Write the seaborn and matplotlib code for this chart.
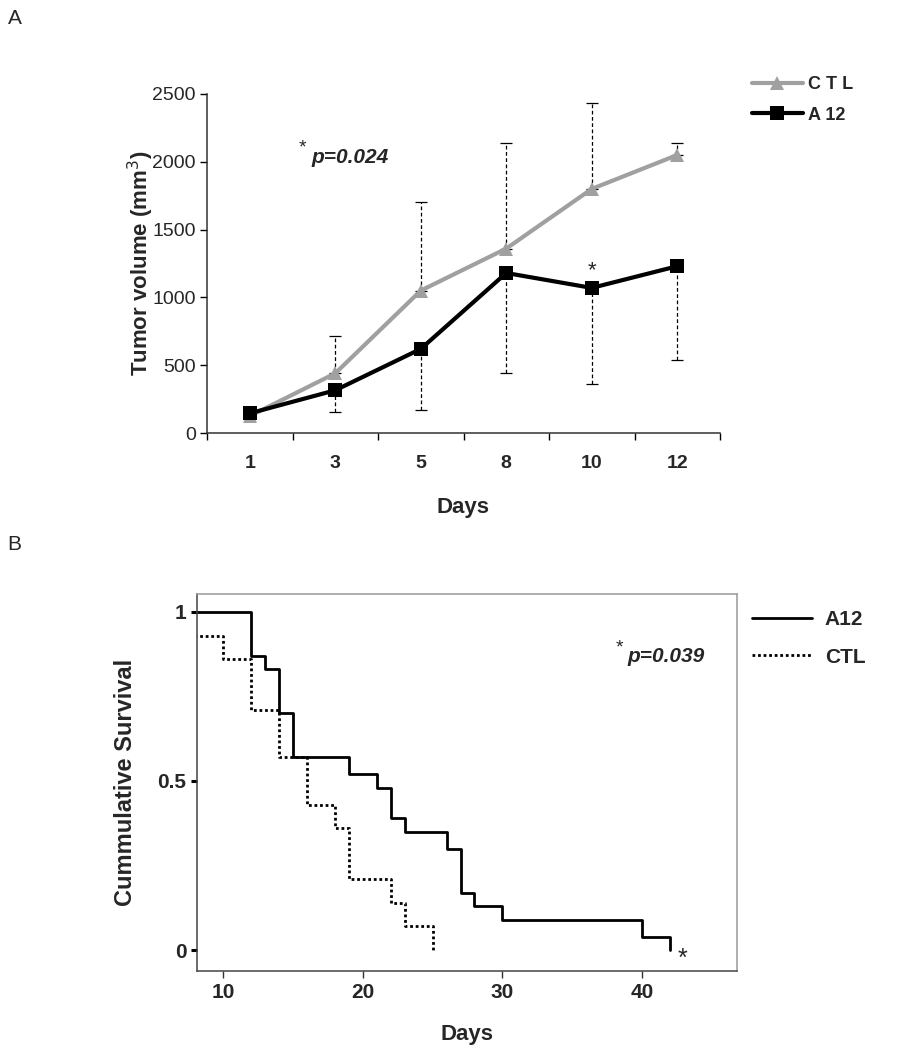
import numpy as np
import pandas as pd
import matplotlib
matplotlib.use("Agg")
import matplotlib.pyplot as plt
import seaborn as sns

# Panel A: tumour volume (mm3) per measurement day
days = ["1", "3", "5", "8", "10", "12"]
ctl_mean = [125, 440, 1050, 1360, 1800, 2050]
a12_mean = [145, 315, 620, 1180, 1070, 1230]
# ends of the dashed error bars (CTL up, A12 down), no bar on day 1
ctl_upper = [np.nan, 715, 1700, 2140, 2430, 2140]
a12_lower = [np.nan, 155, 170, 445, 365, 535]

# Panel B: Kaplan-Meier steps (day of event, survival after it)
a12_days = [0, 12, 13, 14, 15, 19, 21, 22, 23, 26, 27, 28, 30, 40, 42]
a12_surv = [1.0, 0.87, 0.83, 0.70, 0.57, 0.52, 0.48, 0.39, 0.35, 0.30, 0.17, 0.13, 0.09, 0.04, 0.0]
ctl_days = [0, 10, 12, 14, 16, 18, 19, 22, 23, 25]
ctl_surv = [0.93, 0.86, 0.71, 0.57, 0.43, 0.36, 0.21, 0.14, 0.07, 0.0]

sns.set_theme(style="white")
plt.rcParams["font.family"] = ["Liberation Sans", "DejaVu Sans"]

fig = plt.figure(figsize=(9.24, 10.5), dpi=100)
W, H = 924, 1050


def box(x0, y0, x1, y1):
    # pixel box (top-left origin) -> figure fraction rect
    return [x0 / W, 1 - y1 / H, (x1 - x0) / W, (y1 - y0) / H]


# ---------------- Panel A ----------------
axA = fig.add_axes(box(207, 94, 720, 433))
pos = list(range(len(days)))
df_a = pd.DataFrame({
    "pos": pos * 2,
    "vol": ctl_mean + a12_mean,
    "group": ["C T L"] * len(days) + ["A 12"] * len(days),
})

up = np.array(ctl_upper) - np.array(ctl_mean)
lo = np.array(a12_mean) - np.array(a12_lower)
ok = ~np.isnan(up)
for mean, err, upper in [(ctl_mean, up, True), (a12_mean, lo, False)]:
    m = np.array(mean)[ok]
    e = err[ok]
    yerr = [np.zeros_like(e), e] if upper else [e, np.zeros_like(e)]
    eb = axA.errorbar(np.array(pos)[ok], m, yerr=yerr, fmt="none", ecolor="black",
                      elinewidth=0.9, capsize=4, capthick=0.9, zorder=1)
    eb[2][0].set_linestyle((0, (3, 2)))

sns.lineplot(data=df_a, x="pos", y="vol", hue="group", style="group",
             hue_order=["C T L", "A 12"], style_order=["C T L", "A 12"],
             palette={"C T L": "#a0a0a0", "A 12": "black"},
             markers={"C T L": "^", "A 12": "s"}, dashes=False,
             linewidth=3, markersize=10.5, markeredgewidth=0, ax=axA, zorder=3)

axA.set_xlim(-0.5, 5.5)
axA.set_ylim(0, 2500)
axA.set_xticks(np.arange(-0.5, 6, 1))
axA.set_xticklabels([])
axA.set_xticks(pos, minor=True)
axA.set_xticklabels(days, minor=True, fontweight="bold", fontsize=14)
axA.tick_params(axis="x", which="major", direction="out", length=5, width=1, color="black", bottom=True)
axA.tick_params(axis="x", which="minor", length=0, pad=16)
axA.set_yticks([0, 500, 1000, 1500, 2000, 2500])
axA.set_yticklabels(["0", "500", "1000", "1500", "2000", "2500"], fontsize=14)
axA.tick_params(axis="y", direction="out", length=5, width=1, color="black", left=True, pad=3)
for s in ["top", "right"]:
    axA.spines[s].set_visible(False)
for s in ["left", "bottom"]:
    axA.spines[s].set_color("#333333")
    axA.spines[s].set_linewidth(1.1)

axA.set_ylabel("Tumor volume (mm$^3$)", fontsize=16, fontweight="bold")
axA.yaxis.set_label_coords(-0.10, 0.5)
axA.set_xlabel("Days", fontsize=16, fontweight="bold")
axA.xaxis.set_label_coords(0.5, -0.19)

axA.text(0.62, 2104, "*", fontsize=14, ha="center", va="center")
axA.text(0.72, 2030, "p=0.024", fontsize=15, fontweight="bold", style="italic",
         ha="left", va="center")
axA.text(4.0, 1195, "*", fontsize=16, ha="center", va="center")

hA, lA = axA.get_legend_handles_labels()
axA.legend(hA, lA, loc="upper left", bbox_to_anchor=(752 / W, 1 - 76 / H),
           bbox_transform=fig.transFigure, frameon=False, borderpad=0, borderaxespad=0,
           handlelength=2.8, handletextpad=0.3, labelspacing=0.75,
           prop={"weight": "bold", "size": 13})

# ---------------- Panel B ----------------
axB = fig.add_axes(box(197, 594, 737, 971))
df_b = pd.DataFrame({
    "day": a12_days + ctl_days,
    "surv": a12_surv + ctl_surv,
    "group": ["A12"] * len(a12_days) + ["CTL"] * len(ctl_days),
})
sns.lineplot(data=df_b, x="day", y="surv", hue="group", style="group",
             hue_order=["A12", "CTL"], style_order=["A12", "CTL"],
             palette={"A12": "black", "CTL": "black"},
             dashes={"A12": "", "CTL": (1, 1)}, drawstyle="steps-post",
             linewidth=2, estimator=None, errorbar=None, ax=axB)

axB.set_xlim(8.13, 46.8)
axB.set_ylim(-0.062, 1.053)
axB.set_xticks([10, 20, 30, 40])
axB.set_xticklabels(["10", "20", "30", "40"], fontsize=15, fontweight="bold")
axB.set_yticks([0, 0.5, 1])
axB.set_yticklabels(["0", "0.5", "1"], fontsize=15, fontweight="bold")
axB.tick_params(axis="x", direction="out", length=5, width=1, color="#333333", bottom=True, pad=4)
axB.tick_params(axis="y", direction="out", length=4.5, width=2.2, color="black", left=True, pad=3)
for s in ["left", "bottom"]:
    axB.spines[s].set_color("#444444")
    axB.spines[s].set_linewidth(1.1)
for s in ["top", "right"]:
    axB.spines[s].set_color("#999999")
    axB.spines[s].set_linewidth(1.1)

axB.set_ylabel("Cummulative Survival", fontsize=17, fontweight="bold")
axB.yaxis.set_label_coords(-0.111, 0.5)
axB.set_xlabel("Days", fontsize=16, fontweight="bold")
axB.xaxis.set_label_coords(0.5, -0.14)

axB.text(38.4, 0.893, "*", fontsize=14, ha="center", va="center")
axB.text(38.95, 0.867, "p=0.039", fontsize=15, fontweight="bold", style="italic",
         ha="left", va="center")
axB.text(42.9, -0.025, "*", fontsize=18, ha="center", va="center")

hB, lB = axB.get_legend_handles_labels()
axB.legend(hB, lB, loc="upper left", bbox_to_anchor=(752 / W, 1 - 610 / H),
           bbox_transform=fig.transFigure, frameon=False, borderpad=0, borderaxespad=0,
           handlelength=2.9, handletextpad=0.6, labelspacing=0.9,
           prop={"weight": "bold", "size": 15})

fig.text(15 / W, 1 - 18 / H, "A", fontsize=15, ha="center", va="center")
fig.text(14 / W, 1 - 545 / H, "B", fontsize=15, ha="center", va="center")

fig.savefig("out.png", dpi=100, facecolor="white")
